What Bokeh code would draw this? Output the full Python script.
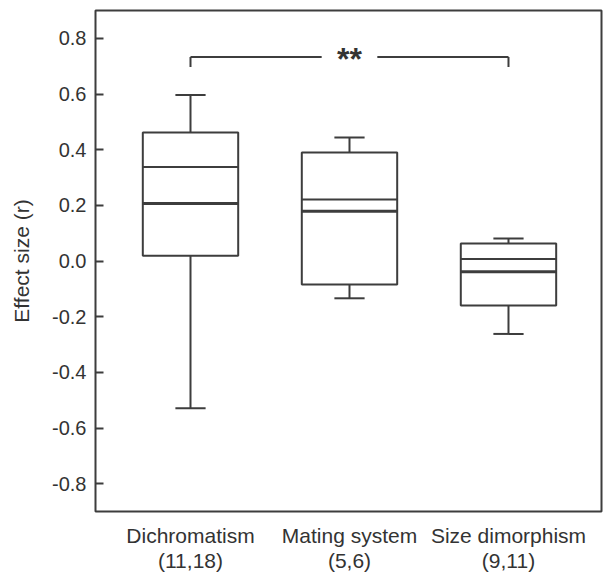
import math
from bokeh.plotting import figure
from bokeh.models import Range1d, FixedTicker, PrintfTickFormatter, Label
from bokeh.embed import file_html
from bokeh.resources import INLINE

# ---- data ----
groups = ["Dichromatism", "Mating system", "Size dimorphism"]
group_n = ["(11,18)", "(5,6)", "(9,11)"]
xpos = [1, 2, 3]
whisker_low = [-0.529, -0.134, -0.262]
q1 = [0.019, -0.084, -0.160]
median = [0.207, 0.179, -0.039]
mean = [0.338, 0.221, 0.007]
q3 = [0.462, 0.390, 0.063]
whisker_high = [0.596, 0.444, 0.081]
y_ticks = [-0.8, -0.6, -0.4, -0.2, 0.0, 0.2, 0.4, 0.6, 0.8]
y_title = "Effect size (r)"
sig_pair = [1, 3]
sig_level = 0.733
sig_text = "**"

LC = "#3d3d3d"
TC = "#333333"
FONT = "Liberation Sans"

p = figure(width=603, height=574,
           x_range=Range1d(0.4025, 3.585), y_range=Range1d(-0.9, 0.9),
           output_backend="svg", toolbar_location=None,
           min_border_left=95, min_border_right=2,
           min_border_top=10, min_border_bottom=62)
p.grid.visible = False
p.outline_line_color = LC
p.outline_line_width = 2
p.background_fill_color = "white"
p.border_fill_color = "white"

# y axis
ya = p.yaxis[0]
ya.ticker = FixedTicker(ticks=y_ticks)
ya.formatter = PrintfTickFormatter(format="%.1f")
ya.axis_line_color = None
ya.major_tick_in = 8
ya.major_tick_out = 0
ya.minor_tick_line_color = None
ya.major_tick_line_color = LC
ya.major_tick_line_width = 2
ya.major_label_standoff = 9
ya.major_label_text_font = FONT
ya.major_label_text_font_size = "20px"
ya.major_label_text_color = TC
ya.axis_label = y_title
ya.axis_label_standoff = 16
ya.axis_label_text_font = FONT
ya.axis_label_text_font_size = "21px"
ya.axis_label_text_font_style = "normal"
ya.axis_label_text_color = TC

# x axis
xa = p.xaxis[0]
xa.ticker = FixedTicker(ticks=xpos)
xa.major_label_overrides = {x: f"{g}\n{n}" for x, g, n in zip(xpos, groups, group_n)}
xa.axis_line_color = None
xa.major_tick_line_color = None
xa.minor_tick_line_color = None
xa.major_tick_in = 0
xa.major_tick_out = 0
xa.major_label_standoff = 12
xa.major_label_text_font = FONT
xa.major_label_text_font_size = "21px"
xa.major_label_text_color = TC
xa.major_label_text_line_height = 1.1

box_w = 0.6
cap_w = 0.19

# whiskers
p.segment(x0=xpos, y0=q3, x1=xpos, y1=whisker_high, line_color=LC, line_width=2)
p.segment(x0=xpos, y0=q1, x1=xpos, y1=whisker_low, line_color=LC, line_width=2)
p.segment(x0=[x - cap_w / 2 for x in xpos], y0=whisker_high,
          x1=[x + cap_w / 2 for x in xpos], y1=whisker_high, line_color=LC, line_width=2)
p.segment(x0=[x - cap_w / 2 for x in xpos], y0=whisker_low,
          x1=[x + cap_w / 2 for x in xpos], y1=whisker_low, line_color=LC, line_width=2)
# boxes
p.vbar(x=xpos, width=box_w, top=q3, bottom=q1, fill_color="white",
       line_color=LC, line_width=2)
# mean (thin) and median (thick)
p.segment(x0=[x - box_w / 2 for x in xpos], y0=mean,
          x1=[x + box_w / 2 for x in xpos], y1=mean, line_color=LC, line_width=2)
p.segment(x0=[x - box_w / 2 for x in xpos], y0=median,
          x1=[x + box_w / 2 for x in xpos], y1=median, line_color=LC, line_width=3)

# significance bracket
a, b = sig_pair
mid = (a + b) / 2
gap = 0.175
drop = 0.036
p.segment(x0=[a, mid + gap, a, b], y0=[sig_level, sig_level, sig_level, sig_level],
          x1=[mid - gap, b, a, b], y1=[sig_level, sig_level, sig_level - drop, sig_level - drop],
          line_color=LC, line_width=2)
p.add_layout(Label(x=mid, y=sig_level - 0.008, text=sig_text, text_align="center",
                   text_baseline="alphabetic", text_font=FONT, text_font_size="32px",
                   text_font_style="bold", text_color=TC))

open("out.html", "w").write(file_html(p, INLINE))
